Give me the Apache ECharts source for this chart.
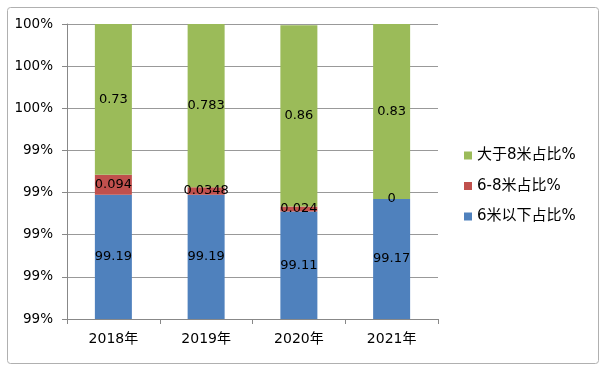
<!DOCTYPE html>
<html>
<head>
<meta charset="utf-8">
<script src="https://cdn.jsdelivr.net/npm/echarts@6/dist/echarts.min.js"></script>
<style>
html,body{margin:0;padding:0;background:#fff;}
#c{width:600px;height:366px;}
</style>
</head>
<body>
<div id="c"></div>
<script>
const categories = ['2018年', '2019年', '2020年', '2021年'];
const below6 = [99.19, 99.19, 99.11, 99.17];
const mid68 = [0.094, 0.0348, 0.024, 0];
const above8 = [0.73, 0.783, 0.86, 0.83];
const seriesNames = ['6米以下占比%', '6-8米占比%', '大于8米占比%'];
const legendOrder = ['大于8米占比%', '6-8米占比%', '6米以下占比%'];

const FONT = '"DejaVu Sans", "Noto Sans CJK SC", sans-serif';
const chart = echarts.init(document.getElementById('c'), null, {renderer: 'canvas'});
const lbl = {
  show: true, position: 'inside', color: '#000', fontSize: 13, fontFamily: FONT,
  formatter: p => String(p.value)
};
function mk(name, data, color) {
  return {
    name: name, type: 'bar', stack: 'all', data: data, barWidth: 37,
    itemStyle: {color: color}, label: lbl, clip: true
  };
}
chart.setOption({
  animation: false,
  textStyle: {fontFamily: FONT},
  graphic: [{
    type: 'rect', left: 5, top: 5, shape: {width: 591, height: 356, r: 3},
    style: {fill: 'none', stroke: '#b0b0b0', lineWidth: 1}, silent: true, z: -1
  }],
  grid: {left: 67, right: 162, top: 24, bottom: 47},
  legend: {
    orient: 'vertical', left: 459, top: 143, itemWidth: 8, itemHeight: 8, itemGap: 15.5,
    icon: 'rect', data: legendOrder,
    textStyle: {fontSize: 15, color: '#000', fontFamily: FONT}
  },
  xAxis: {
    type: 'category', data: categories,
    axisLine: {lineStyle: {color: '#888', width: 1}},
    axisTick: {show: true, length: 5, lineStyle: {color: '#888'}},
    axisLabel: {color: '#000', fontSize: 14, margin: 13, fontFamily: FONT}
  },
  yAxis: {
    type: 'value', min: 98.6, max: 100, interval: 0.2,
    axisLine: {show: true, lineStyle: {color: '#888', width: 1}},
    axisTick: {show: true, length: 5, inside: false, lineStyle: {color: '#888'}},
    splitLine: {show: true, lineStyle: {color: '#999', width: 1}},
    axisLabel: {color: '#000', fontSize: 13.5, margin: 14, fontFamily: FONT,
      formatter: v => Math.round(v) + '%'}
  },
  series: [
    mk(seriesNames[0], below6, '#4F81BD'),
    mk(seriesNames[1], mid68, '#C0504D'),
    mk(seriesNames[2], above8, '#9BBB59')
  ]
});
</script>
</body>
</html>
